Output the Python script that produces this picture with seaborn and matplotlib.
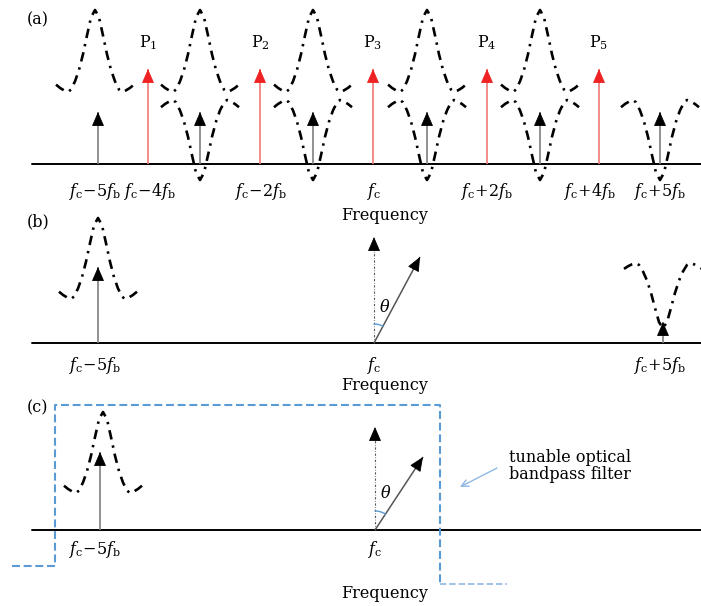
import numpy as np
import pandas as pd
import matplotlib
matplotlib.use("Agg")
import matplotlib.pyplot as plt
import seaborn as sns

sns.set_style("white")
plt.rcParams["font.family"] = ["DejaVu Serif"]
plt.rcParams["mathtext.fontset"] = "dejavuserif"
plt.rcParams["text.color"] = "black"

# ---- shape of a resonance: offset in px, relative height
profile_dx = [-39, -35, -31, -27, -24, -20, -16, -12, -8, -4, 0,
              4, 8, 12, 16, 20, 24, 27, 31, 35, 39]
profile_h = [0.09, 0.05, 0.02, 0.0, 0.03, 0.13, 0.27, 0.46, 0.69, 0.91, 1.0,
             0.91, 0.69, 0.46, 0.27, 0.13, 0.03, 0.0, 0.02, 0.05, 0.09]

# ---- panel (a)
a_base = 164
a_black_x = [98, 200, 313, 427, 540, 660]
a_black_tip = 112
a_red_x = [148, 260, 373, 487, 599]
a_red_tip = 69
a_red_labels = ["P$_1$", "P$_2$", "P$_3$", "P$_4$", "P$_5$"]
a_peak_x = [95, 200, 313, 427, 540]
a_peak_wing, a_peak_h = 92, 82
a_dip_x = [200, 313, 427, 540, 660]
a_dip_wing, a_dip_d = 100, 80
a_tick_x = [95, 150, 261, 374, 487, 590, 660]
a_tick_labels = [r"$f_\mathrm{c}{-}5f_\mathrm{b}$", r"$f_\mathrm{c}{-}4f_\mathrm{b}$",
                 r"$f_\mathrm{c}{-}2f_\mathrm{b}$", r"$f_\mathrm{c}$",
                 r"$f_\mathrm{c}{+}2f_\mathrm{b}$", r"$f_\mathrm{c}{+}4f_\mathrm{b}$",
                 r"$f_\mathrm{c}{+}5f_\mathrm{b}$"]

# ---- panel (b)
b_base = 343
b_black_x = [98, 663]
b_black_tip = [267, 322]
b_peak_x, b_peak_wing, b_peak_h = 98, 299, 81
b_dip_x, b_dip_wing, b_dip_d = 663, 263, 65
b_vec_origin = (374, 343)
b_vec_vert_tip = 237
b_vec_tip = (420, 257)
b_tick_x = [95, 374, 660]
b_tick_labels = [r"$f_\mathrm{c}{-}5f_\mathrm{b}$", r"$f_\mathrm{c}$",
                 r"$f_\mathrm{c}{+}5f_\mathrm{b}$"]

# ---- panel (c)
c_base = 530
c_black_x = [100]
c_black_tip = [452]
c_peak_x, c_peak_wing, c_peak_h = 103, 493, 81
c_vec_origin = (375, 530)
c_vec_vert_tip = 427
c_vec_tip = (423, 457)
c_tick_x = [95, 375]
c_tick_labels = [r"$f_\mathrm{c}{-}5f_\mathrm{b}$", r"$f_\mathrm{c}$"]
filter_x = [12, 55, 55, 440, 440]
filter_y = [566, 566, 405, 405, 584]
filter_tail_x = [440, 507]
filter_tail_y = [584, 584]

FS = 11.5
DASHDOT = (0, (3.6, 2.3, 0.9, 2.3))
GRAY = "#7f7f7f"
BLUE = "#5b9bd5"

fig = plt.figure(figsize=(7.01, 6.06), dpi=100)
ax = fig.add_axes([0, 0, 1, 1])


def curve(cx, wing, amp, up=True):
    xs = [cx + d for d in profile_dx]
    ys = [wing - amp * h if up else wing + amp * h for h in profile_h]
    df = pd.DataFrame({"x": xs, "y": ys})
    sns.lineplot(data=df, x="x", y="y", ax=ax, color="black", lw=1.9,
                 linestyle=DASHDOT, sort=False, estimator=None)


def head(tip, tail, color):
    tip = np.array(tip, float)
    tail = np.array(tail, float)
    d = (tip - tail) / np.hypot(*(tip - tail))
    start = tip - 12 * d
    ax.annotate("", xy=tuple(tip), xytext=tuple(start),
                arrowprops=dict(arrowstyle="-|>,head_length=0.6,head_width=0.26",
                                mutation_scale=15, color=color, lw=0.6,
                                shrinkA=0, shrinkB=0))


def arrow(x0, y0, x1, y1, shaft, hcol, lw=1.2):
    ax.plot([x0, x1], [y0, y1], color=shaft, lw=lw, solid_capstyle="butt")
    head((x1, y1), (x0, y0), hcol)


def vector(origin, vtip, tip):
    ox, oy = origin
    ax.plot([ox, ox], [oy, vtip + 6], color="#555555", lw=0.8,
            linestyle=(0, (2, 1.5, 0.6, 1.5)))
    head((ox, vtip), (ox, oy), "black")
    arrow(ox, oy, tip[0], tip[1], "#555555", "black", lw=1.1)
    ang = np.arctan2(tip[0] - ox, oy - tip[1])
    t = np.linspace(0, ang, 20)
    r = 19
    ax.plot(ox + r * np.sin(t), oy - r * np.cos(t), color=BLUE, lw=1.0)
    ax.text(ox + 11, oy - 36, r"$\theta$", fontsize=FS, ha="center", va="center")


# ---------------- panel (a)
ax.plot([32, 701], [a_base, a_base], color="black", lw=1.4)
for x in a_peak_x:
    curve(x, a_peak_wing, a_peak_h, up=True)
for x in a_dip_x:
    curve(x, a_dip_wing, a_dip_d, up=False)
for x in a_black_x:
    arrow(x, a_base, x, a_black_tip, GRAY, "black")
for x, lab in zip(a_red_x, a_red_labels):
    arrow(x, a_base, x, a_red_tip, "#f07878", "#ee2222")
    ax.text(x, 43, lab, fontsize=FS, ha="center", va="center")
for x, lab in zip(a_tick_x, a_tick_labels):
    ax.text(x, 191, lab, fontsize=FS, ha="center", va="center")
ax.text(385, 216, "Frequency", fontsize=FS, ha="center", va="center")
ax.text(38, 20, "(a)", fontsize=FS, ha="center", va="center")

# ---------------- panel (b)
ax.plot([32, 701], [b_base, b_base], color="black", lw=1.4)
curve(b_peak_x, b_peak_wing, b_peak_h, up=True)
curve(b_dip_x, b_dip_wing, b_dip_d, up=False)
for x, t in zip(b_black_x, b_black_tip):
    arrow(x, b_base, x, t, GRAY, "black")
vector(b_vec_origin, b_vec_vert_tip, b_vec_tip)
for x, lab in zip(b_tick_x, b_tick_labels):
    ax.text(x, 366, lab, fontsize=FS, ha="center", va="center")
ax.text(385, 385, "Frequency", fontsize=FS, ha="center", va="center")
ax.text(38, 222, "(b)", fontsize=FS, ha="center", va="center")

# ---------------- panel (c)
ax.plot([32, 701], [c_base, c_base], color="black", lw=1.4)
curve(c_peak_x, c_peak_wing, c_peak_h, up=True)
for x, t in zip(c_black_x, c_black_tip):
    arrow(x, c_base, x, t, GRAY, "black")
vector(c_vec_origin, c_vec_vert_tip, c_vec_tip)
ax.plot(filter_x, filter_y, color=BLUE, lw=1.5, linestyle=(0, (3.8, 1.8)))
ax.plot(filter_tail_x, filter_tail_y, color="#8fb8e2", lw=1.2, linestyle=(0, (3.8, 1.8)))
for x, lab in zip(c_tick_x, c_tick_labels):
    ax.text(x, 549, lab, fontsize=FS, ha="center", va="center")
ax.text(385, 593, "Frequency", fontsize=FS, ha="center", va="center")
ax.text(38, 408, "(c)", fontsize=FS, ha="center", va="center")
ax.text(509, 466, "tunable optical\nbandpass filter", fontsize=FS, ha="left",
        va="center", linespacing=1.0)
ax.annotate("", xy=(460, 487), xytext=(497, 468),
            arrowprops=dict(arrowstyle="->,head_length=0.5,head_width=0.25",
                            color="#8fb8e2", lw=1.0, shrinkA=0, shrinkB=0))

ax.set_xlim(0, 701)
ax.set_ylim(606, 0)
ax.set_axis_off()
fig.savefig("out.png", dpi=100)
